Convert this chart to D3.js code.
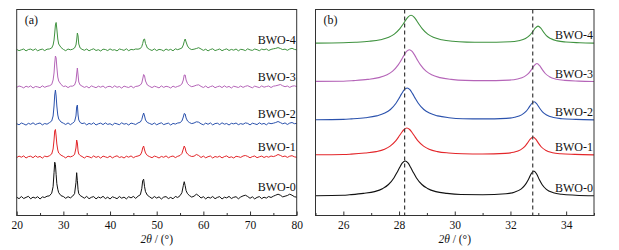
<!DOCTYPE html>
<html><head><meta charset="utf-8">
<script src="https://cdn.jsdelivr.net/npm/d3@7/dist/d3.min.js"></script>
<style>
body{margin:0;background:#fff}
svg{display:block;font-family:"Liberation Serif","Times New Roman",serif}
</style>
</head><body>
<svg id="chart" width="619" height="250"></svg>
<script>
// ---------- DATA ----------
const sampleNames = ["BWO-0", "BWO-1", "BWO-2", "BWO-3", "BWO-4"];

// Panel (a): 2θ sample positions (degrees)
const thetaA = [
  20,20.5,21,21.5,22,22.5,23,23.5,24,24.5,25,25.5,26,26.5,27,27.5,
  27.8,28,28.15,28.3,28.45,28.6,28.8,29,29.5,
  30,30.5,31,31.5,32,32.4,
  32.7,32.85,33,33.15,33.3,33.6,
  34,34.5,35,35.5,36,36.5,37,37.5,38,38.5,39,39.5,40,40.5,41,41.5,42,42.5,43,43.5,44,44.5,45,45.5,46,46.5,
  46.8,47,47.2,47.4,47.6,48,48.5,
  49,49.5,50,50.5,51,51.5,52,52.5,53,53.5,54,54.5,55,
  55.4,55.7,55.9,56.1,56.3,56.6,57,57.5,
  58,58.5,59,59.5,60,60.5,61,61.5,62,62.5,63,63.5,64,64.5,65,65.5,66,66.5,67,67.5,68,68.5,69,69.5,70,70.5,71,71.5,72,72.5,73,73.5,74,74.5,75,75.5,76,76.5,77,77.5,78,78.5,79,79.5,80
];
// Panel (a) intensities (a.u., above each pattern's own baseline)
const bwo0A = [
  0.5,-1,1.2,-0.8,0.3,1.4,-1.1,0.6,-0.4,1,-1.3,0.8,0.2,1.5,1.8,4.5,
  11,25,35.5,33,23,14,8.5,5,2,
  1.2,-0.6,1,-0.2,1.6,4,
  15,25,17,8,4,2.2,
  1,-0.5,1.3,-1,0.4,1.1,-1.2,0.7,-0.3,1.4,-0.9,0.5,-1.3,0.9,0.1,-1,1.2,-0.5,0.6,-1.2,1,-0.2,1.3,-0.7,1.5,3,
  9,17,18.5,11,6,2.5,0.8,
  -0.8,1.2,-0.4,0.9,-1.3,0.6,1.1,-0.9,0.3,-1.1,1.3,0.2,2,
  5,12,16,12,7,4,2.2,0.6,
  1.5,3.5,2,-0.3,1,-1.2,0.6,-0.4,1.2,-1,0.3,1.1,-1.3,0.5,-0.2,1.3,-0.8,0.4,1,-1.1,0.7,1.8,2.5,1.2,-0.6,0.9,-1.2,0.3,1.1,-0.9,0.5,-0.4,1.2,0.2,1.5,2.5,3.5,2.5,0.8,1.5,2.2,3.5,2.5,1,0.5
];
const bwo1A = [
  -0.6,0.9,-0.2,1.1,-1,0.4,0.8,-0.7,1.2,-0.3,0.6,-1.1,0.9,0.2,1.2,3,
  8,17,26,27.5,21,13,7,4,1.8,
  0.6,-0.9,0.8,0.1,1,2.5,
  9,17,14,6,3,1.5,
  0.5,-1,0.7,0.2,-0.8,1.1,-0.4,0.6,-1.1,0.9,0.1,-0.6,1,-0.9,0.4,1.2,-0.5,0.3,-1,0.8,-0.2,1.1,-0.7,0.5,1,2,
  5,9,11,7,4,1.5,0.3,
  -0.7,0.9,0.2,-1,0.6,-0.3,1.1,-0.8,0.4,1,-0.6,0.7,1.5,
  3.5,8,11,9,5,3,1.5,0.5,
  0.8,2.5,1.5,-0.5,0.9,-0.8,0.3,1,-1,0.5,-0.2,0.8,-0.9,0.4,1.1,-0.6,0.2,-1,0.7,0.3,-0.4,1,1.5,0.6,-0.8,0.4,1,-0.7,0.2,0.9,-0.5,0.6,-0.2,1,0.4,1.2,2.5,1.6,0.3,1,-0.4,0.8,1.3,0.2,-0.3
];
const bwo2A = [
  0.3,-0.8,1,0.1,-1.1,0.7,-0.3,1.2,-0.6,0.4,1,-0.9,0.5,-0.2,1.3,3,
  8,18,29,34,28,18,9,5,2,
  0.8,-0.5,1.1,-0.7,0.9,2.5,
  8,17,19,9,4,1.5,
  0.4,1,-0.9,0.6,-0.3,1.2,-1,0.2,0.9,-0.6,1.1,-0.4,0.3,-1.1,0.8,0.1,-0.7,1.2,-0.2,0.5,-1,0.9,0.3,-0.5,1.1,2,
  4.5,8,11,8,4,1.5,0.5,
  -0.5,1,-0.8,0.4,1.2,-0.6,0.2,0.9,-1,0.6,-0.1,1,1.3,
  3,7,10.5,10,6,3,1.5,0.4,
  1,2.2,1.8,0.2,-0.8,0.9,-0.3,1.1,-0.9,0.4,0.8,-0.6,1.2,-0.2,0.5,-1,0.7,0.1,1,-0.7,0.4,-0.3,1.1,0.6,-0.9,0.8,0.2,-0.6,1.2,-0.2,0.6,-0.8,1,0.3,0.8,1.5,2.5,1.4,0.2,1.1,-0.5,0.9,1.5,0.3,0.6
];
const bwo3A = [
  -0.4,1,0.3,-0.9,0.8,-0.2,1.1,-1,0.5,0.1,-0.7,1.2,-0.3,0.7,1.2,2.5,
  7,14,24,31,29,20,10,6,2.5,
  0.5,1,-0.6,0.8,0.9,2,
  6,13,19,12,5,2,
  0.9,-0.4,0.6,-1,1.1,0.2,-0.7,0.8,-0.2,1,-0.9,0.4,0.7,-0.6,1.2,-0.3,0.5,-1.1,0.9,0.1,-0.5,1,-0.8,0.6,0.9,2,
  4,8,12.5,11,6,2,0.6,
  -0.6,0.8,0.1,-0.9,1.1,-0.4,0.7,0.2,-1,0.9,-0.3,0.6,1.4,
  3,7,12,12,7,3.5,1.5,0.3,
  0.9,1.8,2.2,0.6,-0.5,1,-0.8,0.4,1.1,-0.7,0.3,0.9,-0.6,1.2,-0.3,0.6,-1,0.8,0.2,-0.5,1,-0.4,0.7,1.3,0.2,-0.8,0.9,0.1,-0.6,1.1,-0.2,0.5,1,-0.5,0.8,1.2,1.8,2.5,1.2,0.3,1,-0.4,0.8,1.2,0.4
];
const bwo4A = [
  0.6,-0.7,0.2,1,-0.9,0.5,0.9,-0.4,1.1,-0.8,0.3,0.9,-0.6,0.8,1,2,
  5,10,17,25,27.5,21,11,6,2.5,
  0.6,-0.7,1,0.2,0.8,2,
  5,10,17,14,6,2,
  0.7,-0.3,1,-0.8,0.4,1.2,-0.5,0.3,-1,0.8,0.5,-0.6,1.1,-0.2,0.3,-0.9,1,0.4,-0.4,1.2,-0.7,0.6,0.2,1,0.8,1.5,
  3.5,6.5,10.5,11,6.5,2,0.5,
  -0.5,1.1,-0.6,0.6,0.2,-0.9,1,-0.3,0.7,-0.8,1.2,0.3,1.2,
  2,5,8.5,11,8,4,1.5,0.4,
  0.8,1.5,2.3,1,-0.4,0.8,-0.9,0.5,1.2,-0.6,0.2,1,-0.7,0.4,1.1,-0.5,0.6,-0.2,1,-0.8,0.7,0.3,-0.6,1.2,0.1,-0.4,1,0.3,-0.7,0.9,0.2,1,-0.5,0.6,1.2,1.6,2.4,1.5,0.4,0.9,-0.3,1,1.7,0.6,0.2
];
// vertical stacking offsets (a.u.)
const offsetsA = [17.8, 58.5, 91.5, 128.5, 165.5];

// Panel (b): [2θ, intensity] readings for each sample
const bwo0B = [[25,0.3],[26,0.7],[26.22,1.2],[26.72,2.6],[27.12,4.4],[27.42,7.6],[27.62,11.5],[27.82,18.3],[27.92,23.2],[28.02,28.5],[28.12,33.1],[28.22,35],[28.32,33.1],[28.42,28.5],[28.52,23.2],[28.62,18.3],[28.82,11.5],[29.02,7.6],[29.32,4.4],[29.72,2.6],[30.22,1.5],[31,1.3],[31.84,2.2],[32.14,3.8],[32.39,7.1],[32.54,11.6],[32.64,16.2],[32.74,22],[32.84,25],[32.94,22],[33.04,16.2],[33.14,11.2],[33.29,6.6],[33.54,3.3],[33.84,1.7],[34.34,0.8],[35,0.2]];
const bwo1B = [[25,0.2],[26,0.5],[26.28,0.9],[26.78,2],[27.18,3.4],[27.48,5.8],[27.68,8.9],[27.88,14.1],[27.98,17.9],[28.08,22],[28.18,25.5],[28.28,27],[28.38,25.5],[28.48,22],[28.58,17.9],[28.68,14.1],[28.88,8.9],[29.08,5.8],[29.38,3.4],[29.78,2],[30.28,1.2],[31,1],[31.81,1.6],[32.11,2.7],[32.36,5.1],[32.51,8.3],[32.61,11.9],[32.71,15.8],[32.81,18],[32.91,15.8],[33.01,11.6],[33.11,8],[33.26,4.8],[33.51,2.3],[33.81,1.2],[34.31,0.6],[35,0.1]];
const bwo2B = [[25,0.3],[26,0.6],[26.29,1.1],[26.79,2.3],[27.19,4.1],[27.49,6.9],[27.69,10.5],[27.89,16.8],[27.99,21.2],[28.09,26.1],[28.19,30.3],[28.29,32],[28.39,30.3],[28.49,26.1],[28.59,21.2],[28.69,16.8],[28.89,10.5],[29.09,6.9],[29.39,4.1],[29.79,2.3],[30.29,1.3],[31,1.1],[31.85,1.6],[32.15,2.7],[32.4,5.1],[32.55,8.3],[32.65,11.9],[32.75,16],[32.85,18.2],[32.95,16],[33.05,11.8],[33.15,8.2],[33.3,5],[33.55,2.5],[33.85,1.3],[34.35,0.6],[35,0.1]];
const bwo3B = [[25,0.3],[26,0.5],[26.37,1.1],[26.87,2.3],[27.27,4.1],[27.57,6.9],[27.77,10.5],[27.97,16.8],[28.07,21.2],[28.17,26.1],[28.27,30.3],[28.37,32],[28.47,30.3],[28.57,26.1],[28.67,21.2],[28.77,16.8],[28.97,10.5],[29.17,6.9],[29.47,4.1],[29.87,2.3],[30.37,1.3],[31,1.1],[31.95,1.6],[32.25,2.7],[32.5,5.1],[32.65,8.3],[32.75,11.9],[32.85,16],[32.95,18.2],[33.05,16],[33.15,11.8],[33.25,8.2],[33.4,5],[33.65,2.5],[33.95,1.3],[34.45,0.6],[35,0.2]];
const bwo4B = [[25,0.2],[26,0.5],[26.43,1],[26.93,2],[27.33,3.6],[27.63,6],[27.83,9.2],[28.03,14.7],[28.13,18.5],[28.23,22.8],[28.33,26.5],[28.43,28],[28.53,26.5],[28.63,22.8],[28.73,18.5],[28.83,14.7],[29.03,9.2],[29.23,6],[29.53,3.6],[29.93,2],[30.43,1.2],[31,1],[31.99,1.5],[32.29,2.6],[32.54,4.8],[32.69,7.9],[32.79,11.3],[32.89,15.1],[32.99,17.2],[33.09,15.1],[33.19,11.2],[33.29,7.7],[33.44,4.7],[33.69,2.4],[33.99,1.3],[34.49,0.6],[35,0.2]];
const offsetsB = [19.5, 60.5, 95.5, 133.8, 172.2];
const refLinesB = [28.2, 32.8];

// axes
const domainA = [20, 80];
const majorTicksA = [20, 30, 40, 50, 60, 70, 80];
const minorTicksA = [25, 35, 45, 55, 65, 75];
const domainB = [25, 35];
const majorTicksB = [26, 28, 30, 32, 34];
const minorTicksB = [25, 27, 29, 31, 33, 35];
const axisTitle = ["2θ", " / (°)"];
const panelTags = ["(a)", "(b)"];

// ---------- STYLE ----------
const colors = ["#111111", "#e3262a", "#2b52ad", "#b565b8", "#3f923f"];

// ---------- DRAW ----------
const svg = d3.select("#chart");
const plotTop = 9.5, plotBottom = 215.5;
const yIntensity = d3.scaleLinear().domain([0, 206]).range([plotBottom, plotTop]);

function panel(opts) {
  const g = svg.append("g");
  const x = d3.scaleLinear().domain(opts.domain).range([opts.left, opts.right]);
  opts.series.forEach((s, i) => {
    const line = d3.line()
      .x(d => x(d[0]))
      .y(d => yIntensity(opts.offsets[i] + d[1]))
      .curve(opts.curve);
    g.append("path").datum(s)
      .attr("d", line)
      .attr("fill", "none")
      .attr("stroke", colors[i])
      .attr("stroke-width", opts.lw)
      .attr("stroke-linejoin", "round");
    g.append("text")
      .attr("x", opts.right - 1)
      .attr("y", yIntensity(opts.offsets[i]) - opts.labelGap)
      .attr("text-anchor", "end")
      .attr("font-size", 12)
      .attr("fill", "#111")
      .text(sampleNames[i]);
  });
  (opts.refLines || []).forEach(v => {
    g.append("line")
      .attr("x1", x(v)).attr("x2", x(v))
      .attr("y1", plotTop).attr("y2", plotBottom)
      .attr("stroke", "#3a3a3a").attr("stroke-width", 1.2)
      .attr("stroke-dasharray", "4,3");
  });
  g.append("rect")
    .attr("x", opts.left).attr("y", plotTop)
    .attr("width", opts.right - opts.left).attr("height", plotBottom - plotTop)
    .attr("fill", "none").attr("stroke", "#333").attr("stroke-width", 1);
  const ax = g.append("g").attr("transform", `translate(0,${plotBottom})`)
    .call(d3.axisBottom(x).tickValues(opts.major).tickSize(-4).tickPadding(5).tickFormat(d3.format("d")));
  ax.select(".domain").remove();
  ax.selectAll("line").attr("stroke", "#333");
  ax.selectAll("text").attr("font-size", 11.5).attr("fill", "#111")
    .attr("font-family", '"Liberation Serif","Times New Roman",serif');
  const axm = g.append("g").attr("transform", `translate(0,${plotBottom})`)
    .call(d3.axisBottom(x).tickValues(opts.minor).tickSize(-2.5).tickFormat(""));
  axm.select(".domain").remove();
  axm.selectAll("line").attr("stroke", "#333");
  const t = g.append("text")
    .attr("x", (opts.left + opts.right) / 2).attr("y", 242.5)
    .attr("text-anchor", "middle").attr("font-size", 11.5).attr("fill", "#111");
  t.append("tspan").attr("font-style", "italic").text(axisTitle[0]);
  t.append("tspan").text(axisTitle[1]);
  g.append("text").attr("x", opts.left + 8).attr("y", 23.5)
    .attr("font-size", 12).attr("fill", "#111").text(opts.tag);
}

panel({
  domain: domainA, left: 16.7, right: 296.7,
  series: [bwo0A, bwo1A, bwo2A, bwo3A, bwo4A].map(v => thetaA.map((t, k) => [t, v[k]])),
  offsets: offsetsA, curve: d3.curveLinear, lw: 1.0, labelGap: 6.3,
  major: majorTicksA, minor: minorTicksA, tag: panelTags[0]
});
panel({
  domain: domainB, left: 315.5, right: 594,
  series: [bwo0B, bwo1B, bwo2B, bwo3B, bwo4B],
  offsets: offsetsB, curve: d3.curveMonotoneX, lw: 1.1, labelGap: 4.2,
  refLines: refLinesB,
  major: majorTicksB, minor: minorTicksB, tag: panelTags[1]
});
</script>
</body></html>
